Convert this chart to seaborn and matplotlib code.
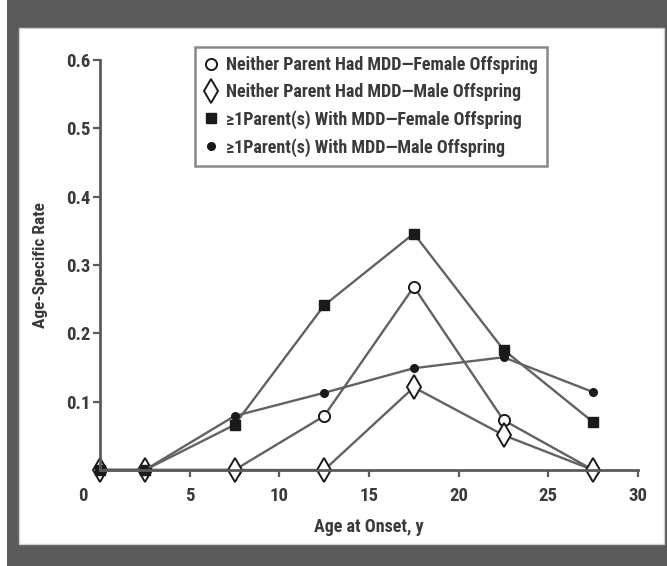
import pandas as pd
import matplotlib
matplotlib.use('Agg')
import matplotlib.pyplot as plt
import matplotlib.transforms as mtransforms
from matplotlib.patches import Rectangle
from matplotlib.lines import Line2D
import seaborn as sns

# Values
ages = [0, 2.5, 7.5, 12.5, 17.5, 22.5, 27.5]
neither_female = [0, 0, 0, 0.079, 0.268, 0.073, 0]
neither_male = [0, 0, 0, 0, 0.121, 0.051, 0]
parent_female = [0, 0, 0.066, 0.241, 0.346, 0.176, 0.070]
parent_male = [0, 0, 0.079, 0.113, 0.149, 0.165, 0.114]

series_names = [
    'Neither Parent Had MDD\u2014Female Offspring',
    'Neither Parent Had MDD\u2014Male Offspring',
    '\u22651Parent(s) With MDD\u2014Female Offspring',
    '\u22651Parent(s) With MDD\u2014Male Offspring',
]
x_ticks = [0, 5, 10, 15, 20, 25, 30]
y_ticks = [0.1, 0.2, 0.3, 0.4, 0.5, 0.6]

df = pd.concat([
    pd.DataFrame({'Age': ages, 'Rate': vals, 'Group': name})
    for name, vals in zip(series_names,
                          [neither_female, neither_male, parent_female, parent_male])
])

sns.set_style('ticks')
plt.rcParams['font.family'] = ['Roboto Condensed', 'Liberation Sans Narrow', 'DejaVu Sans']
plt.rcParams['font.stretch'] = 'condensed'
plt.rcParams['font.weight'] = 'bold'
plt.rcParams['axes.labelweight'] = 'bold'

dark = '#5b5b5c'
line_col = '#626262'
ink = '#1a1a1a'
txt = '#3a3a3a'

fig = plt.figure(figsize=(6.67, 5.66), dpi=100)
# grey frame around the panel
fig.patches.append(Rectangle((7 / 667, 0), 660 / 667, 1, transform=fig.transFigure,
                             fc=dark, ec='none', zorder=-2))
fig.patches.append(Rectangle((19 / 667, 22 / 566), 645 / 667, 516 / 566,
                             transform=fig.transFigure, fc='white', ec='#cfcfcf',
                             lw=1, zorder=-1))

ax = fig.add_axes([100 / 667, 96 / 566, 538 / 667, 410 / 566])
ax.patch.set_alpha(0)

styles = {
    series_names[0]: dict(marker='o', ms=8, mfc='white', mec=ink, mew=1.4),
    series_names[1]: dict(marker='d', ms=12, mfc='white', mec=ink, mew=1.4),
    series_names[2]: dict(marker='s', ms=7.5, mfc=ink, mec=ink, mew=1),
    series_names[3]: dict(marker='o', ms=5.5, mfc=ink, mec=ink, mew=1),
}

for name in series_names:
    sub = df[df['Group'] == name]
    sns.lineplot(data=sub, x='Age', y='Rate', ax=ax, color=line_col, lw=1.7,
                 clip_on=False, **styles[name])

ax.set_xlim(0, 30)
ax.set_ylim(0, 0.6)
ax.set_xticks(x_ticks)
ax.set_yticks(y_ticks)
ax.set_xticklabels([str(t) for t in x_ticks])
ax.set_yticklabels([f'{t:.1f}' for t in y_ticks])

for s in ['top', 'right']:
    ax.spines[s].set_visible(False)
for s in ['left', 'bottom']:
    ax.spines[s].set_color(dark)
    ax.spines[s].set_linewidth(2)
ax.tick_params(direction='out', length=5, width=1.6, color=dark,
               labelsize=13.5, labelcolor=txt)
ax.tick_params(axis='x', pad=7)
ax.tick_params(axis='y', pad=2)

# the "0" label sits a little left of the origin
zero = ax.get_xticklabels()[0]
zero.set_transform(zero.get_transform() +
                   mtransforms.ScaledTranslation(-0.17, 0, fig.dpi_scale_trans))

ax.set_xlabel('Age at Onset, y', fontsize=13, color=txt)
ax.set_ylabel('Age-Specific Rate', fontsize=12.5, color=txt)
ax.xaxis.set_label_coords(0.5, -0.118)
ax.yaxis.set_label_coords(-0.097, 0.5)

# legend: markers only (proxy handles so the plotted lines keep their style)
handles = [Line2D([], [], ls='none', **styles[n]) for n in series_names]
leg = ax.legend(handles, series_names, loc='upper left', bbox_to_anchor=(0.177, 1.032),
                borderaxespad=0, frameon=True, fancybox=False, fontsize=13,
                handlelength=0.8, handletextpad=0.4, labelspacing=0.5,
                borderpad=0.5, labelcolor=txt)
leg.get_frame().set_edgecolor('#6a6a6a')
leg.get_frame().set_linewidth(1.8)

fig.savefig('out.png', dpi=100)
